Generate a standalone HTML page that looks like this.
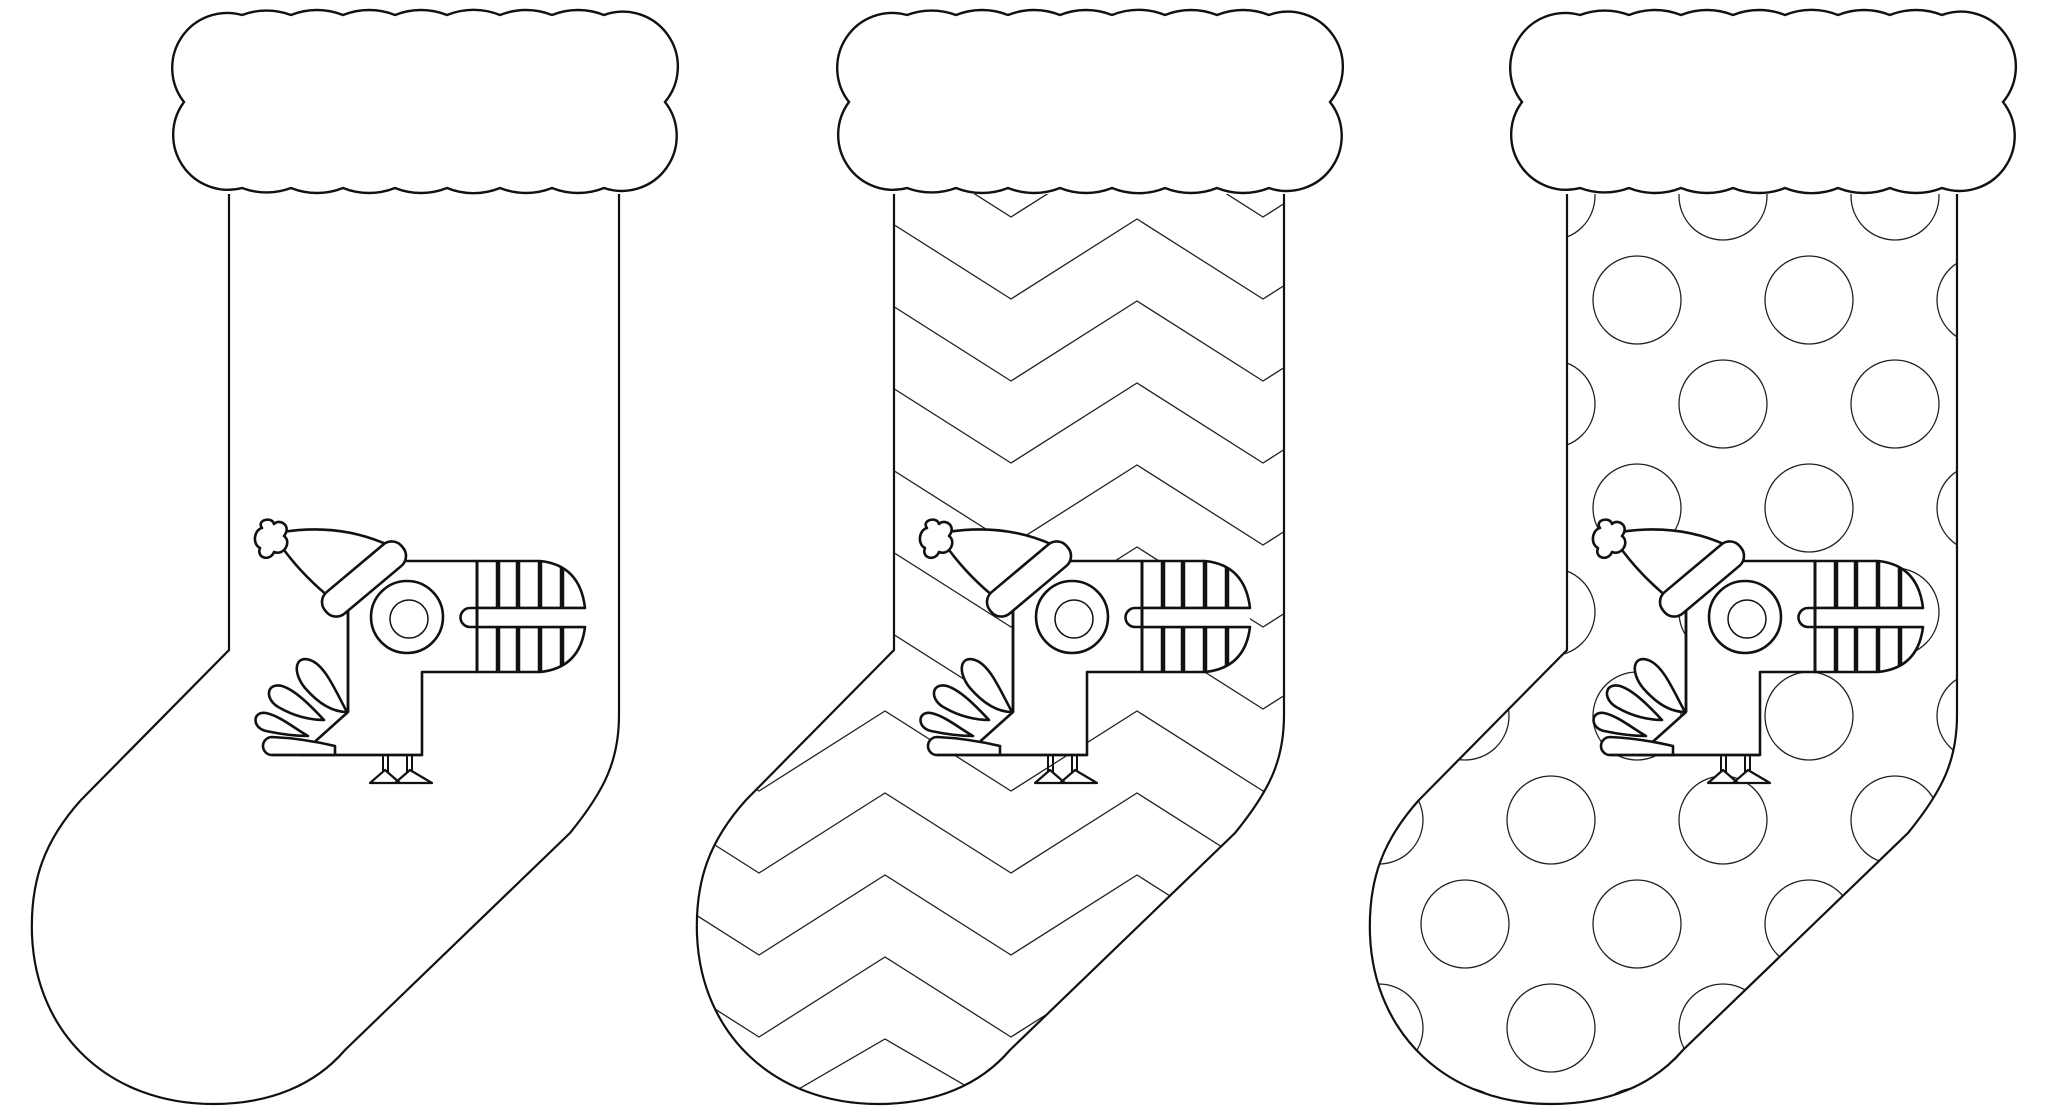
<!DOCTYPE html>
<html><head><meta charset="utf-8"><style>
html,body{margin:0;padding:0;background:#fff;width:2048px;height:1114px;overflow:hidden;}
svg{display:block;}
</style></head><body>
<svg width="2048" height="1114" viewBox="0 0 2048 1114" xmlns="http://www.w3.org/2000/svg">
<defs>
  <path id="sock" d="M229,194 V650 L81,800 C45,840 30,880 32,935 C36,1035 110,1104 213,1104 C270,1104 315,1085 345,1050 L570,833 C605,790 619,760 619,715 V194"/>
  <path id="cuff" d="M242,15 A70,70 0 0 1 291,15 A70,70 0 0 1 343,15 A70,70 0 0 1 395,15 A70,70 0 0 1 447,15 A70,70 0 0 1 500,15 A70,70 0 0 1 552,15 A70,70 0 0 1 604,15 A55,55 0 0 1 665,102 A55,55 0 0 1 604,188 A70,70 0 0 1 552,188 A70,70 0 0 1 500,188 A70,70 0 0 1 447,188 A70,70 0 0 1 395,188 A70,70 0 0 1 343,188 A70,70 0 0 1 291,188 A70,70 0 0 1 242,188 A55,55 0 0 1 184,102 A55,55 0 0 1 242,15 Z"/>
  <clipPath id="c2"><use href="#sock" transform="translate(665,0)"/></clipPath>
  <clipPath id="c3"><use href="#sock" transform="translate(1338,0)"/></clipPath>
  <clipPath id="btop"><path d="M477,561 H540 Q580,565 585,608 H477 Z"/></clipPath>
  <clipPath id="bbot"><path d="M477,627 H585 Q580,668 540,672 H477 Z"/></clipPath>
  <pattern id="dots" patternUnits="userSpaceOnUse" x="1465" y="300" width="172" height="208">
    <g fill="none" stroke="#222" stroke-width="1.3">
      <circle cx="86" cy="104" r="44"/>
      <circle cx="0" cy="0" r="44"/><circle cx="172" cy="0" r="44"/>
      <circle cx="0" cy="208" r="44"/><circle cx="172" cy="208" r="44"/>
    </g>
  </pattern>
  <g id="bird" stroke="#111" stroke-width="2.6" fill="#fff" stroke-linejoin="round">
    <path d="M282,532 Q340,523 388,545 L333,600 Q305,578 284,550 Z"/>
    <path d="M262,528 C256,520 272,516 274,524 C280,518 292,526 284,536 C292,542 284,556 274,552 C270,562 256,558 260,548 C252,544 254,530 262,528 Z"/>
    <path d="M348,606 L400,561 H477 V672 H422 V755 H300 L348,712 Z" />
    <path d="M347,712 C335,690 325,665 310,660 C295,655 292,672 305,688 C318,703 332,712 347,712 Z"/>
    <path d="M324,720 C310,705 295,690 282,686 C266,682 264,700 280,708 C294,716 310,720 324,720 Z"/>
    <path d="M308,736 C294,728 280,716 266,713 C252,711 252,728 266,731 C280,734 294,736 308,736 Z"/>
    <path d="M335,755 H272 A9,9 0 0 1 272,737 C295,738 318,742 335,746 Z" />
    <path d="M348,606 V712 M272,755 H422" fill="none"/>
    <path d="M383,755 V776 M388,755 V776 M407,755 V776 M412,755 V776" fill="none" stroke-width="2"/>
    <path d="M385,770 L370,783 H400 Z M410,770 L395,783 H432 Z" stroke-width="2.2"/>
    <g transform="rotate(-40 364 579)">
      <rect x="314" y="565" width="100" height="28" rx="13"/>
    </g>
    <circle cx="407" cy="617" r="36"/>
    <circle cx="409" cy="619" r="19" stroke-width="1.5"/>
    <path d="M477,561 H540 Q580,565 585,608 H477 Z"/>
    <g clip-path="url(#btop)" stroke-width="4.5">
      <path d="M498,555 V612 M518,555 V612 M540,555 V612 M562,555 V612"/>
    </g>
    <path d="M477,627 H585 Q580,668 540,672 H477 Z"/>
    <g clip-path="url(#bbot)" stroke-width="4.5">
      <path d="M498,622 V676 M518,622 V676 M540,622 V676 M562,622 V676"/>
    </g>
    <path d="M585,608 H470 A9.5,9.5 0 0 0 470,627 H585"/>
    <path d="M477,561 V672" fill="none" stroke-width="3"/>
  </g>
</defs>

<rect width="2048" height="1114" fill="#fff"/>

<g>
  <use href="#sock" fill="#fff" stroke="#111" stroke-width="2.2"/>
  <use href="#cuff" fill="#fff" stroke="#111" stroke-width="2.4"/>
  <use href="#bird"/>
</g>

<g clip-path="url(#c2)" fill="none" stroke="#222" stroke-width="1.3">
  <polyline points="633,55 759,135 885,55 1011,135 1137,55 1263,135 1389,55"/>
  <polyline points="633,137 759,217 885,137 1011,217 1137,137 1263,217 1389,137"/>
  <polyline points="633,219 759,299 885,219 1011,299 1137,219 1263,299 1389,219"/>
  <polyline points="633,301 759,381 885,301 1011,381 1137,301 1263,381 1389,301"/>
  <polyline points="633,383 759,463 885,383 1011,463 1137,383 1263,463 1389,383"/>
  <polyline points="633,465 759,545 885,465 1011,545 1137,465 1263,545 1389,465"/>
  <polyline points="633,547 759,627 885,547 1011,627 1137,547 1263,627 1389,547"/>
  <polyline points="633,629 759,709 885,629 1011,709 1137,629 1263,709 1389,629"/>
  <polyline points="633,711 759,791 885,711 1011,791 1137,711 1263,791 1389,711"/>
  <polyline points="633,793 759,873 885,793 1011,873 1137,793 1263,873 1389,793"/>
  <polyline points="633,875 759,955 885,875 1011,955 1137,875 1263,955 1389,875"/>
  <polyline points="633,957 759,1037 885,957 1011,1037 1137,957 1263,1037 1389,957"/>
  <polyline points="633,1039 759,1112 885,1039 1011,1112 1137,1039 1263,1112 1389,1039"/>
</g>
<g transform="translate(665,0)">
  <use href="#sock" fill="none" stroke="#111" stroke-width="2.2"/>
  <use href="#cuff" fill="#fff" stroke="#111" stroke-width="2.4"/>
  <use href="#bird"/>
</g>

<rect x="1350" y="100" width="650" height="1014" fill="url(#dots)" clip-path="url(#c3)"/>
<g transform="translate(1338,0)">
  <use href="#sock" fill="none" stroke="#111" stroke-width="2.2"/>
  <use href="#cuff" fill="#fff" stroke="#111" stroke-width="2.4"/>
  <use href="#bird"/>
</g>
</svg>
</body></html>
